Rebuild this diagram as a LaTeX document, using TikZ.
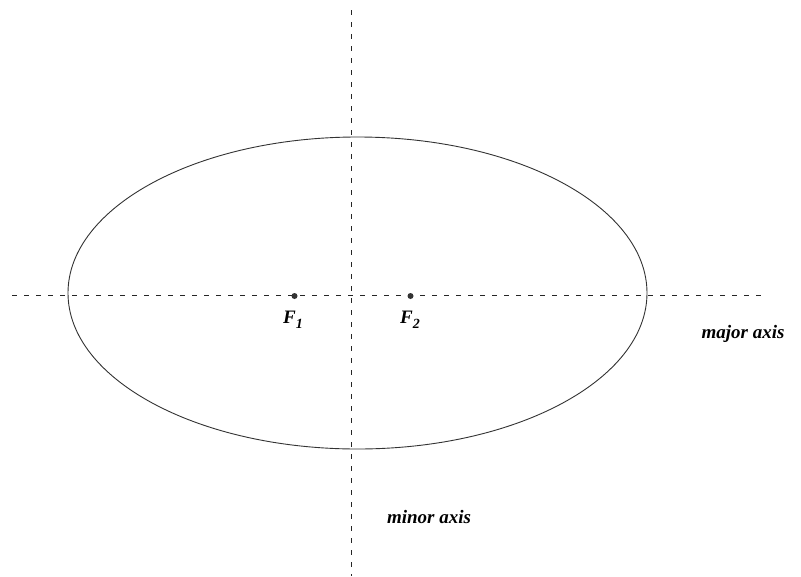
\documentclass[tikz,border=0pt]{standalone}
\usepackage{fontspec}
\setmainfont{Liberation Serif}
\newcommand{\fsub}[1]{\raisebox{-4.5pt}{\fontsize{14}{14}\selectfont #1}}
\begin{document}
\begin{tikzpicture}[x=1pt,y=-1pt,
  axis/.style={line width=0.8pt, dash pattern=on 5pt off 7pt, black!85},
  curve/.style={line width=0.9pt, black!80},
  focus/.style={circle, fill=black!80, inner sep=0pt, minimum size=6pt},
  lbl/.style={font=\fontsize{19}{22}\selectfont\bfseries\itshape},
  flbl/.style={font=\fontsize{19}{22}\selectfont\bfseries\itshape}]
\useasboundingbox (0,0) rectangle (801,576);
\coordinate (hl) at (12,295.5);
\coordinate (hr) at (762,295.5);
\coordinate (vt) at (351,10);
\coordinate (vb) at (351,576);
\draw[axis] (hl) -- (hr);
\draw[axis] (vt) -- (vb);
\draw[curve] (357.5,293) ellipse [x radius=289.5, y radius=156];
\node[focus] (f1) at (294.5,296) {};
\node[focus] (f2) at (410.5,296) {};
\node[flbl] (l1) at (293,320) {F\fsub{1}};
\node[flbl] (l2) at (410,320) {F\fsub{2}};
\node[lbl] (maj) at (743,334) {major axis};
\node[lbl] (min) at (429,517) {minor axis};
\end{tikzpicture}
\end{document}
